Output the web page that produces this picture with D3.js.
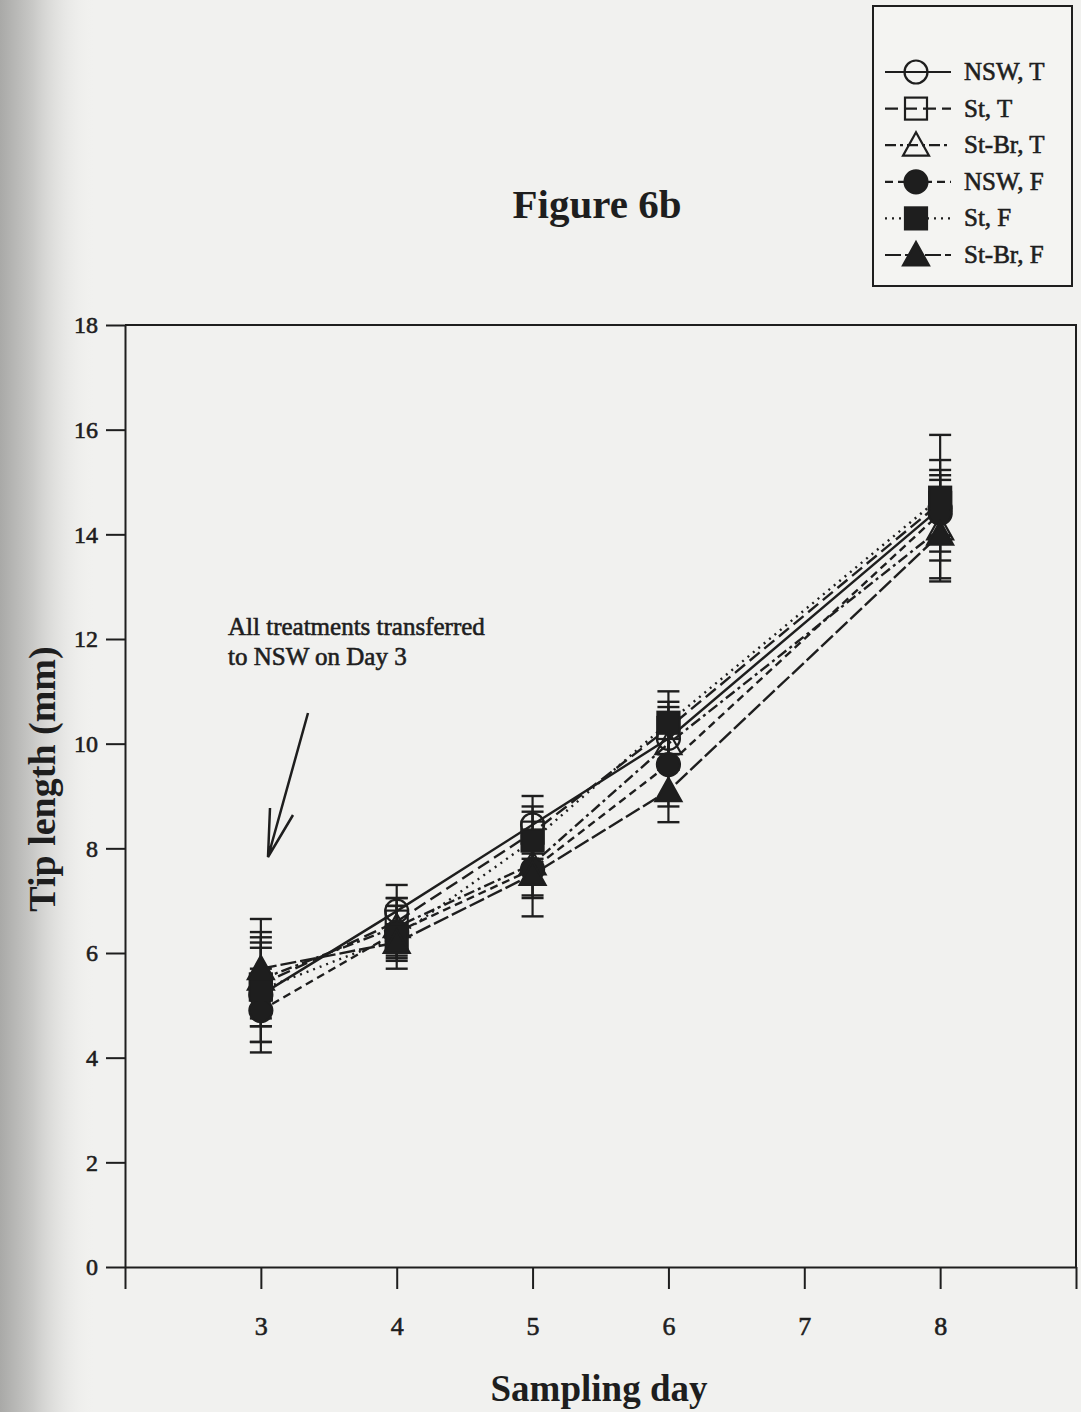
<!DOCTYPE html>
<html>
<head>
<meta charset="utf-8">
<script src="https://cdn.jsdelivr.net/npm/d3@7"></script>
<style>
  html, body { margin: 0; padding: 0; background: #f0f0ee; }
  svg { display: block; }
  text { font-family: "Liberation Serif", "Times New Roman", serif; fill: #1e1e1e; }
  .ink-text { stroke: #1e1e1e; stroke-width: 0.6px; }
</style>
</head>
<body>
<svg id="chart" width="1081" height="1412"></svg>
<script>
// Sampling days and treatment series (mean tip length, mm, with standard error)
const days = [3, 4, 5, 6, 8];
const seriesNames = ["NSW, T", "St, T", "St-Br, T", "NSW, F", "St, F", "St-Br, F"];

const nswT   = [5.2, 6.8, 8.45, 10.1, 14.5];
const nswTse = [0.9, 0.5, 0.55, 0.6, 1.4];
const stT    = [5.4, 6.6, 8.3, 10.3, 14.6];
const stTse  = [0.8, 0.45, 0.5, 0.5, 0.63];
const stBrT   = [5.5, 6.5, 7.7, 10.0, 14.1];
const stBrTse = [0.9, 0.55, 0.6, 0.5, 0.94];
const nswF   = [4.9, 6.4, 7.6, 9.6, 14.4];
const nswFse = [0.8, 0.5, 0.55, 0.8, 0.73];
const stF    = [5.3, 6.3, 8.15, 10.4, 14.7];
const stFse  = [1.0, 0.6, 0.55, 0.6, 0.72];
const stBrF   = [5.7, 6.2, 7.5, 9.1, 14.0];
const stBrFse = [0.95, 0.35, 0.8, 0.6, 0.5];

const yTicks = [0, 2, 4, 6, 8, 10, 12, 14, 16, 18];
const xTicks = [2, 3, 4, 5, 6, 7, 8, 9];
const xTickLabels = ["", "3", "4", "5", "6", "7", "8", ""];

const means = [nswT, stT, stBrT, nswF, stF, stBrF];
const errs = [nswTse, stTse, stBrTse, nswFse, stFse, stBrFse];

// drawing style per treatment
const styles = [
  { shape: "circle",   filled: false, dash: null },
  { shape: "square",   filled: false, dash: "13,6" },
  { shape: "triangle", filled: false, dash: "11,4,3,4" },
  { shape: "circle",   filled: true,  dash: "8,5" },
  { shape: "square",   filled: true,  dash: "2,5" },
  { shape: "triangle", filled: true,  dash: "16,4" }
];

const series = seriesNames.map((name, i) => ({
  name,
  style: styles[i],
  points: days.map((d, j) => ({ day: d, v: means[i][j], se: errs[i][j] }))
}));

const svg = d3.select("#chart");
const W = 1081, H = 1412;
const ink = "#1e1e1e";

// page shading along the bound edge
const defs = svg.append("defs");
const grad = defs.append("linearGradient").attr("id", "edge").attr("x1", 0).attr("x2", 1);
grad.append("stop").attr("offset", 0).attr("stop-color", "#a9a9a7");
grad.append("stop").attr("offset", 0.35).attr("stop-color", "#c9c9c7");
grad.append("stop").attr("offset", 1).attr("stop-color", "#f0f0ee").attr("stop-opacity", 0);
svg.append("rect").attr("x", 0).attr("y", 0).attr("width", W).attr("height", H).attr("fill", "#f1f1ef");
svg.append("rect").attr("x", 0).attr("y", 0).attr("width", 95).attr("height", H).attr("fill", "url(#edge)");

const plot = { left: 125, right: 1076, top: 325, bottom: 1267 };

const x = d3.scaleLinear().domain([2, 9]).range([plot.left, plot.right]);
const y = d3.scaleLinear().domain([0, 18]).range([plot.bottom, plot.top]);

// frame
svg.append("path")
  .attr("d", `M${plot.left},${plot.top}H${plot.right}V${plot.bottom}`)
  .attr("fill", "none").attr("stroke", ink).attr("stroke-width", 2);

// axes
const yAxis = d3.axisLeft(y).tickValues(yTicks).tickSize(19).tickSizeOuter(0).tickPadding(8);
const gy = svg.append("g").attr("transform", `translate(${plot.left},0)`).call(yAxis);
gy.selectAll("text").style("font-size", "24px").attr("fill", ink).classed("ink-text", true);

const xAxis = d3.axisBottom(x).tickValues(xTicks).tickSize(22).tickSizeOuter(0).tickPadding(28)
  .tickFormat((d, i) => xTickLabels[i]);
const gx = svg.append("g").attr("transform", `translate(0,${plot.bottom})`).call(xAxis);
gx.selectAll("text").style("font-size", "26px").attr("fill", ink).classed("ink-text", true);

[gx, gy].forEach(g => {
  g.select(".domain").attr("stroke", ink).attr("stroke-width", 2);
  g.selectAll(".tick line").attr("stroke", ink).attr("stroke-width", 2);
});

// axis titles
svg.append("text")
  .attr("x", 599).attr("y", 1401)
  .attr("text-anchor", "middle")
  .style("font-size", "37px").style("font-weight", "bold")
  .text("Sampling day");

svg.append("text")
  .attr("transform", "translate(55,779) rotate(-90)")
  .attr("text-anchor", "middle")
  .style("font-size", "38px").style("font-weight", "bold")
  .text("Tip length (mm)");

// title
svg.append("text")
  .attr("x", 597).attr("y", 218)
  .attr("text-anchor", "middle")
  .style("font-size", "41px").style("font-weight", "bold")
  .text("Figure 6b");

// symbol drawing helper
function drawMarker(g, shape, filled, cx, cy) {
  const fill = filled ? ink : "none";
  const sw = 2.2;
  if (shape === "circle") {
    g.append("circle").attr("cx", cx).attr("cy", cy).attr("r", 11.5)
      .attr("fill", fill).attr("stroke", ink).attr("stroke-width", sw);
  } else if (shape === "square") {
    g.append("rect").attr("x", cx - 11).attr("y", cy - 11).attr("width", 22).attr("height", 22)
      .attr("fill", fill).attr("stroke", ink).attr("stroke-width", sw);
  } else {
    const s = 13;
    g.append("path")
      .attr("d", `M${cx},${cy - s}L${cx + s},${cy + s * 0.8}L${cx - s},${cy + s * 0.8}Z`)
      .attr("fill", fill).attr("stroke", ink).attr("stroke-width", sw).attr("stroke-linejoin", "miter");
  }
}

const line = d3.line().x(d => x(d.day)).y(d => y(d.v));

// connecting lines
svg.append("g").selectAll("path").data(series).join("path")
  .attr("d", d => line(d.points))
  .attr("fill", "none").attr("stroke", ink).attr("stroke-width", 2.4)
  .attr("stroke-dasharray", d => d.style.dash);

// error bars
const eb = svg.append("g");
series.forEach(s => {
  s.points.forEach(p => {
    const cx = x(p.day), y0 = y(p.v - p.se), y1 = y(p.v + p.se);
    eb.append("line").attr("x1", cx).attr("x2", cx).attr("y1", y0).attr("y2", y1)
      .attr("stroke", ink).attr("stroke-width", 2.2);
    [y0, y1].forEach(yy => eb.append("line")
      .attr("x1", cx - 11).attr("x2", cx + 11).attr("y1", yy).attr("y2", yy)
      .attr("stroke", ink).attr("stroke-width", 2.4));
  });
});

// markers
const mk = svg.append("g");
series.forEach(s => {
  s.points.forEach(p => drawMarker(mk, s.style.shape, s.style.filled, x(p.day), y(p.v)));
});

// annotation with arrow
const ann = svg.append("g");
ann.append("text").attr("x", 228).attr("y", 635).style("font-size", "25px").classed("ink-text", true).text("All treatments transferred");
ann.append("text").attr("x", 228).attr("y", 665).style("font-size", "25px").classed("ink-text", true).text("to NSW on Day 3");
ann.append("path")
  .attr("d", "M308,713L268,857M270,808L268,857L293,815")
  .attr("fill", "none").attr("stroke", ink).attr("stroke-width", 2.5);

// legend
const lg = svg.append("g");
lg.append("rect").attr("x", 873).attr("y", 6).attr("width", 199).attr("height", 280)
  .attr("fill", "#f4f4f2").attr("stroke", ink).attr("stroke-width", 2);
const rowY = d3.scaleLinear().domain([0, 5]).range([72, 255]);
series.forEach((s, i) => {
  const yy = rowY(i);
  lg.append("line").attr("x1", 885).attr("x2", 951).attr("y1", yy).attr("y2", yy)
    .attr("stroke", ink).attr("stroke-width", 2.2).attr("stroke-dasharray", s.style.dash);
  drawMarker(lg, s.style.shape, s.style.filled, 916, yy);
  lg.append("text").attr("x", 964).attr("y", yy + 8).style("font-size", "25px").classed("ink-text", true).text(s.name);
});
</script>
</body>
</html>
